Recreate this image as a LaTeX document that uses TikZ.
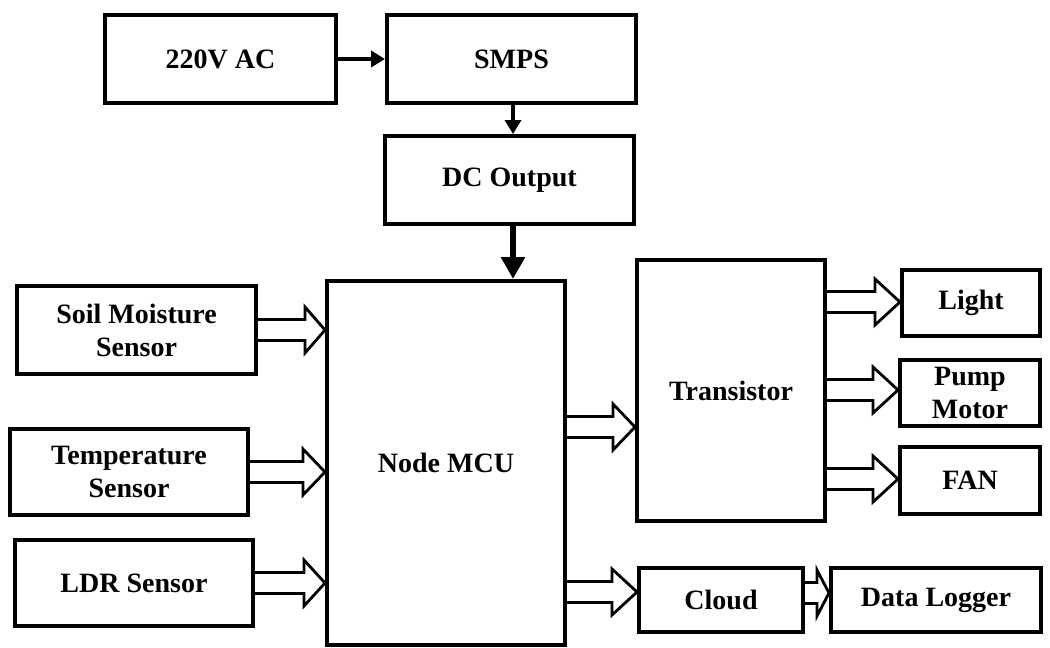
\documentclass[tikz,border=0pt]{standalone}
\usepackage{fontspec}
\setmainfont{Liberation Serif}
\usetikzlibrary{arrows.meta,calc}
\tikzset{
  box/.style={draw=black, line width=4pt, fill=white, rectangle, align=center,
    inner sep=0pt, font=\bfseries\fontsize{28}{33}\selectfont},
  fat/.style={draw=black, fill=white, line width=2.8pt, line join=miter},
  solidarrow/.style={draw=black, line width=4.5pt, -{Triangle[length=14pt,width=16pt]}},
  bigarrow/.style={draw=black, line width=6pt, -{Triangle[length=22pt,width=23pt]}},
}
\newcommand{\fatarrow}[3]{%
  \draw[fat] let \p1=#1, \p2=#2 in
    (\x1,\y1+10.5pt) -- (\x2-#3pt,\y1+10.5pt) -- (\x2-#3pt,\y1+23pt) -- (\x2,\y1)
    -- (\x2-#3pt,\y1-23pt) -- (\x2-#3pt,\y1-10.5pt) -- (\x1,\y1-10.5pt);}
\begin{document}
\begin{tikzpicture}[x=1pt,y=-1pt]
\useasboundingbox (0,0) rectangle (1050,648);
\node[box, minimum width=231, minimum height=88] (ac) at (220.5,59) {220V AC};
\node[box, minimum width=249, minimum height=88] (smps) at (511.5,59) {SMPS};
\node[box, minimum width=249, minimum height=88] (dc) at (509.5,180) {DC Output};
\node[box, minimum width=238, minimum height=364] (mcu) at (446,463) {Node MCU};
\node[box, minimum width=239, minimum height=88] (soil) at (136.5,330) {Soil Moisture\\Sensor};
\node[box, minimum width=238, minimum height=86] (temp) at (129,472) {Temperature\\Sensor};
\node[box, minimum width=238, minimum height=86] (ldr) at (134,583) {LDR Sensor};
\node[box, minimum width=188, minimum height=261] (trans) at (731,390.5) {Transistor};
\node[box, minimum width=138, minimum height=66] (light) at (971,303) {Light};
\node[box, minimum width=140, minimum height=66] (pump) at (970,393) {Pump\\Motor};
\node[box, minimum width=140, minimum height=67] (fan) at (970,480.5) {FAN};
\node[box, minimum width=164, minimum height=64] (cloud) at (721,600) {Cloud};
\node[box, minimum width=210, minimum height=64] (logger) at (936,600) {Data Logger};

\draw[solidarrow] (ac.east) -- (smps.west |- ac.east);
\draw[solidarrow] (smps.south -| 513,0) -- (dc.north -| 513,0);
\draw[bigarrow] (dc.south -| 513,0) -- (mcu.north -| 513,0);

\fatarrow{(soil.east)}{(mcu.west |- soil.east)}{20}
\fatarrow{(temp.east)}{(mcu.west |- temp.east)}{22}
\fatarrow{(ldr.east)}{(mcu.west |- ldr.east)}{21}

\coordinate (t1) at ($(trans.west)+(0,36.5)$);
\fatarrow{(mcu.east |- t1)}{(t1)}{22}
\coordinate (c1) at ($(cloud.west)+(0,-8)$);
\fatarrow{(mcu.east |- c1)}{(c1)}{25}

\coordinate (l1) at ($(light.west)+(0,-1)$);
\fatarrow{(trans.east |- l1)}{(l1)}{25}
\coordinate (p1) at ($(pump.west)+(0,-3)$);
\fatarrow{(trans.east |- p1)}{(p1)}{25}
\coordinate (f1) at ($(fan.west)+(0,-1.5)$);
\fatarrow{(trans.east |- f1)}{(f1)}{25}

\coordinate (d1) at ($(logger.west)+(0,-7)$);
\fatarrow{(cloud.east |- d1)}{(d1)}{12}
\end{tikzpicture}
\end{document}
